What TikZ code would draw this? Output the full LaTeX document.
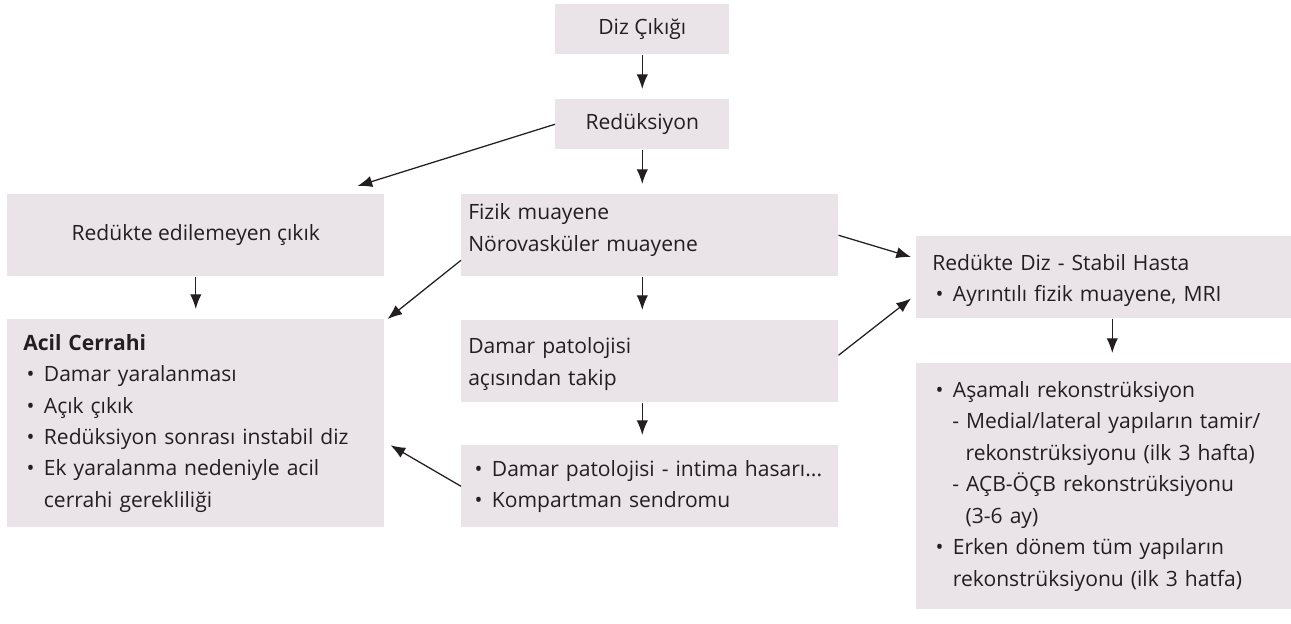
\documentclass[tikz,border=0pt]{standalone}
\usepackage{fontspec}
\setmainfont{Open Sans}
\usetikzlibrary{arrows.meta}

\definecolor{boxfill}{RGB}{234,228,232}
\definecolor{inkcol}{RGB}{35,31,32}

% bullet and dash items inside the boxes
\newcommand{\bul}{\makebox[15.5pt][l]{\hspace{2.5pt}•}}
\newcommand{\subitm}{\hspace*{15pt}- }

\begin{document}
\begin{tikzpicture}[x=0.75pt,y=-0.75pt,
	box/.style={fill=boxfill, text=inkcol, anchor=north west, inner sep=0pt,
		font=\fontsize{15.8}{23.6}\selectfont},
	arr/.style={draw=inkcol, line width=0.95pt, -{Latex[length=11pt,width=8.5pt]}},
	down/.style={arr, shorten >=7.5pt}]
	\useasboundingbox (0,0) rectangle (1291,624);

	% top of the chart
	\node[box, minimum width=130.5pt, minimum height=37.5pt] (diz) at (555,4) {Diz Çıkığı};
	\node[box, minimum width=130.5pt, minimum height=37.5pt] (red) at (555,99) {Redüksiyon};

	% left column
	\node[box, minimum width=282.75pt, minimum height=61.5pt] (nored) at (7,194) {Redükte edilemeyen çıkık};
	\node[box, minimum width=282.75pt, minimum height=156pt, text width=258.75pt, align=left] (acil) at (7,319)
		{\textbf{Acil Cerrahi}\\
		\bul Damar yaralanması\\
		\bul Açık çıkık\\
		\bul Redüksiyon sonrası instabil diz\\
		\bul Ek yaralanma nedeniyle acil\\
		\hspace*{15.5pt}cerrahi gerekliliği};

	% middle column
	\node[box, minimum width=282.75pt, minimum height=61.5pt, text width=272.25pt, align=left,
		text depth=35pt] (fizik) at (461,194)
		{Fizik muayene\\ Nörovasküler muayene};
	\node[box, minimum width=282.75pt, minimum height=61.5pt, text width=272.25pt, align=left,
		text height=16pt] (damar) at (461,320)
		{Damar patolojisi\\ açısından takip};
	\node[box, minimum width=282.75pt, minimum height=61.5pt, text width=267.75pt, align=left] (vasc) at (461,445)
		{\bul Damar patolojisi - intima hasarı...\\
		\bul Kompartman sendromu};

	% right column
	\node[box, minimum width=281.25pt, minimum height=61.5pt, text width=257.25pt, align=left,
		text height=17pt] (stable) at (916,236)
		{Redükte Diz - Stabil Hasta\\
		\bul Ayrıntılı fizik muayene, MRI};
	\node[box, minimum width=281.25pt, minimum height=184.5pt, text width=257.25pt, align=left] (recon) at (916,363)
		{\bul Aşamalı rekonstrüksiyon\\
		\subitm Medial/lateral yapıların tamir/\\
		\hspace*{25pt}rekonstrüksiyonu (ilk 3 hafta)\\
		\subitm AÇB-ÖÇB rekonstrüksiyonu\\
		\hspace*{25pt}(3-6 ay)\\
		\bul Erken dönem tüm yapıların\\
		\hspace*{15.5pt}rekonstrüksiyonu (ilk 3 hatfa)};

	% straight down
	\draw[down] (diz) -- (red);
	\draw[down] (red.south) -- (red.south |- fizik.north);
	\draw[down] (red.south |- fizik.south) -- (red.south |- damar.north);
	\draw[down] (red.south |- damar.south) -- (red.south |- vasc.north);
	\draw[down] (nored) -- (acil);
	\draw[down] ([xshift=6.4pt]stable.south) -- ([xshift=6.4pt]stable.south |- recon.north);

	% slanted ones
	\draw[arr] (red.west) -- ([shift={(-27,-8)}]nored.north east);
	\draw[arr] ([shift={(0,25)}]fizik.west) -- ([shift={(3,0)}]acil.north east);
	\draw[arr] (fizik.east) -- ([shift={(-5,21)}]stable.north west);
	\draw[arr] ([shift={(0,-6)}]damar.east) -- ([shift={(-5,-20)}]stable.south west);
	\draw[arr] (vasc.west) -- ([shift={(6,22)}]acil.east);
\end{tikzpicture}
\end{document}
